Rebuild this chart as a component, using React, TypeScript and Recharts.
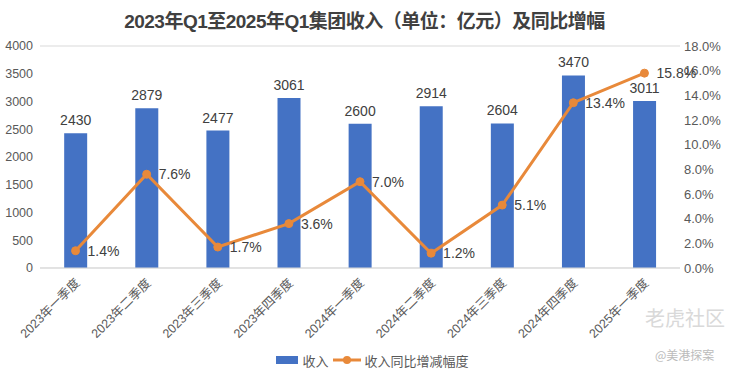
import {
  ComposedChart,
  Bar,
  Line,
  XAxis,
  YAxis,
  CartesianGrid,
  Legend,
  LabelList,
} from 'recharts';

const quarters = [
  '2023年一季度',
  '2023年二季度',
  '2023年三季度',
  '2023年四季度',
  '2024年一季度',
  '2024年二季度',
  '2024年三季度',
  '2024年四季度',
  '2025年一季度',
];
const revenue = [2430, 2879, 2477, 3061, 2600, 2914, 2604, 3470, 3011];
const growth = [1.4, 7.6, 1.7, 3.6, 7.0, 1.2, 5.1, 13.4, 15.8];

const leftTicks = [0, 500, 1000, 1500, 2000, 2500, 3000, 3500, 4000];
const rightTicks = [0, 2, 4, 6, 8, 10, 12, 14, 16, 18];

const BLUE = '#4472C4';
const ORANGE = '#E8893A';
const FONT = '"Liberation Sans", Arial, "Noto Sans CJK SC", sans-serif';

const data = quarters.map((q, i) => ({ q, revenue: revenue[i], growth: growth[i] }));

// rotated category labels, text ends at the tick
const QuarterTick = ({ x, y, payload }: any) => (
  <text
    x={x}
    y={y}
    dy={9}
    dx={-2}
    textAnchor="end"
    transform={`rotate(-45, ${x}, ${y})`}
    fill="#595959"
    fontSize={12.5}
    fontFamily={FONT}
  >
    {payload.value}
  </text>
);

const renderLegend = () => (
  <div
    style={{
      height: 28,
      display: 'flex',
      justifyContent: 'center',
      alignItems: 'center',
      fontSize: 13,
      color: '#595959',
      fontFamily: FONT,
      paddingLeft: 16,
    }}
  >
    <span style={{ width: 22, height: 8, background: BLUE, marginRight: 4 }} />
    <span style={{ marginRight: 4 }}>收入</span>
    <svg width={28} height={10} style={{ marginRight: 4 }}>
      <line x1={0} y1={5} x2={28} y2={5} stroke={ORANGE} strokeWidth={3} />
      <circle cx={14} cy={5} r={4} fill={ORANGE} />
    </svg>
    <span>收入同比增减幅度</span>
  </div>
);

export default function App() {
  return (
    <div style={{ position: 'absolute', left: 0, top: 0, width: 729, height: 374, background: '#fff' }}>
      <div
        style={{
          position: 'absolute',
          top: 6,
          left: 0,
          width: 729,
          textAlign: 'center',
          fontSize: 19,
          fontWeight: 700,
          color: '#404040',
          fontFamily: FONT,
          letterSpacing: -0.5,
        }}
      >
        2023年Q1至2025年Q1集团收入（单位：亿元）及同比增幅
      </div>
      <ComposedChart
        width={729}
        height={374}
        data={data}
        margin={{ top: 46, right: 0, bottom: 0, left: 0 }}
        barCategoryGap="34%"
      >
        <CartesianGrid vertical={false} stroke="#D9D9D9" />
        <XAxis
          dataKey="q"
          height={78}
          interval={0}
          tick={<QuarterTick />}
          tickLine={false}
          axisLine={{ stroke: '#D9D9D9' }}
        />
        <YAxis
          yAxisId="left"
          width={40}
          domain={[0, 4000]}
          ticks={leftTicks}
          tick={{ fill: '#595959', fontSize: 12.5, fontFamily: FONT }}
          tickLine={false}
          axisLine={false}
          tickSize={0}
          tickMargin={7}
        />
        <YAxis
          yAxisId="right"
          orientation="right"
          width={49}
          domain={[0, 18]}
          ticks={rightTicks}
          tickFormatter={(v: number) => `${v.toFixed(1)}%`}
          tick={{ fill: '#595959', fontSize: 13, fontFamily: FONT }}
          tickLine={false}
          axisLine={false}
          tickSize={0}
          tickMargin={4}
        />
        <Legend verticalAlign="bottom" content={renderLegend} />
        <Bar yAxisId="left" dataKey="revenue" name="收入" fill={BLUE} isAnimationActive={false}>
          <LabelList
            dataKey="revenue"
            position="top"
            offset={8}
            fill="#404040"
            fontSize={14}
            fontFamily={FONT}
          />
        </Bar>
        <Line
          yAxisId="right"
          dataKey="growth"
          name="收入同比增减幅度"
          stroke={ORANGE}
          strokeWidth={3}
          dot={{ r: 4, fill: ORANGE, stroke: ORANGE, strokeWidth: 1 }}
          isAnimationActive={false}
        >
          <LabelList
            dataKey="growth"
            position="right"
            offset={12}
            formatter={(v: any) => `${Number(v).toFixed(1)}%`}
            fill="#404040"
            fontSize={14}
            fontFamily={FONT}
          />
        </Line>
      </ComposedChart>
      <div
        style={{
          position: 'absolute',
          left: 645,
          top: 303,
          fontSize: 20,
          whiteSpace: 'nowrap',
          color: '#D0D0D0',
          fontFamily: '"Noto Sans CJK SC", sans-serif',
          opacity: 0.8,
        }}
      >
        老虎社区
      </div>
      <div
        style={{
          position: 'absolute',
          left: 655,
          top: 346,
          fontSize: 12,
          whiteSpace: 'nowrap',
          color: '#BBBBBB',
          fontFamily: '"Noto Sans CJK SC", sans-serif',
        }}
      >
        @美港探案
      </div>
    </div>
  );
}
